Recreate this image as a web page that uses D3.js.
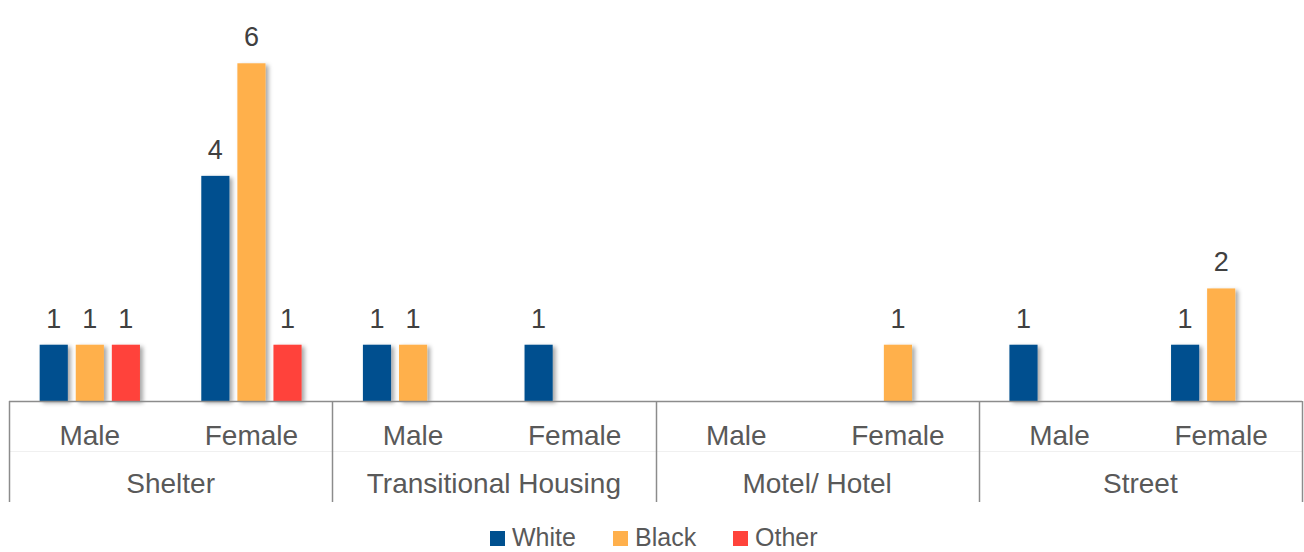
<!DOCTYPE html>
<html>
<head>
<meta charset="utf-8">
<script src="https://cdn.jsdelivr.net/npm/d3@7"></script>
<style>
  body { margin: 0; background: #fff; }
  text { font-family: Arial, "Liberation Sans", sans-serif; }
</style>
</head>
<body>
<svg width="1304" height="552"></svg>
<script>
var groups = ['Shelter', 'Transitional Housing', 'Motel/ Hotel', 'Street'];
var sexes = ['Male', 'Female'];
var seriesNames = ['White', 'Black', 'Other'];
var colors = ['#00508F', '#FFB04C', '#FF433B'];

// one value per group/sex pair, in order (null = no bar)
var white = [1, 4, 1, 1, null, null, 1, 1];
var black = [1, 6, 1, null, null, 1, null, 2];
var other = [1, 1, null, null, null, null, null, null];
var seriesValues = [white, black, other];

var svg = d3.select('svg');

var defs = svg.append('defs');
var f = defs.append('filter').attr('id', 'shadow')
    .attr('x', '-20%').attr('y', '-20%').attr('width', '160%').attr('height', '160%');
f.append('feDropShadow')
    .attr('dx', 3).attr('dy', 2).attr('stdDeviation', 2)
    .attr('flood-color', '#000').attr('flood-opacity', 0.35);

var baseY = 401;

var x0 = d3.scaleBand().domain(groups).range([9, 1302]);
var x1 = d3.scaleBand().domain(sexes).range([0, x0.bandwidth()]);
var x2 = d3.scaleBand().domain(seriesNames).range([0, x1.bandwidth()])
    .paddingInner(0.22).paddingOuter(0.85);
var yScale = d3.scaleLinear().domain([0, 7]).range([baseY, 7]);

var bars = [];
seriesNames.forEach(function(s, si) {
    seriesValues[si].forEach(function(v, i) {
        if (v == null) return;
        bars.push({
            group: groups[Math.floor(i / 2)],
            sex: sexes[i % 2],
            series: s,
            color: colors[si],
            value: v
        });
    });
});

function barX(d) {
    return x0(d.group) + x1(d.sex) + x2(d.series);
}

svg.append('g').selectAll('rect')
    .data(bars)
    .enter()
    .append('rect')
    .attr('x', barX)
    .attr('y', function(d) { return yScale(d.value); })
    .attr('width', x2.bandwidth())
    .attr('height', function(d) { return baseY - yScale(d.value); })
    .style('fill', function(d) { return d.color; })
    .attr('filter', 'url(#shadow)');

svg.append('g').selectAll('text')
    .data(bars)
    .enter()
    .append('text')
    .attr('x', function(d) { return barX(d) + x2.bandwidth() / 2; })
    .attr('y', function(d) { return yScale(d.value) - 17; })
    .attr('text-anchor', 'middle')
    .style('font-size', '27px')
    .style('fill', '#404040')
    .text(function(d) { return d.value; });

// category axis
var axis = svg.append('g').attr('class', 'x axis');

// faint separator between the two label rows
axis.append('line')
    .attr('x1', 9).attr('x2', 1302)
    .attr('y1', 451.5).attr('y2', 451.5)
    .style('stroke', '#f0f0f0').style('stroke-width', 1);

axis.append('line')
    .attr('x1', 9).attr('x2', 1302)
    .attr('y1', baseY + 0.5).attr('y2', baseY + 0.5)
    .style('stroke', '#8c8c8c').style('stroke-width', 1.5);

var dividers = groups.map(function(g) { return x0(g); }).concat([x0.range()[1]]);
axis.selectAll('line.div')
    .data(dividers)
    .enter()
    .append('line')
    .attr('class', 'div')
    .attr('x1', function(d) { return Math.round(d) + 0.5; })
    .attr('x2', function(d) { return Math.round(d) + 0.5; })
    .attr('y1', baseY).attr('y2', 502)
    .style('stroke', '#8c8c8c').style('stroke-width', 1.5);

var subLabels = [];
groups.forEach(function(g) {
    sexes.forEach(function(s) { subLabels.push({ group: g, sex: s }); });
});

axis.selectAll('text.sub')
    .data(subLabels)
    .enter()
    .append('text')
    .attr('class', 'sub')
    .attr('x', function(d) { return x0(d.group) + x1(d.sex) + x1.bandwidth() / 2; })
    .attr('y', 445)
    .attr('text-anchor', 'middle')
    .style('font-size', '28px')
    .style('fill', '#595959')
    .text(function(d) { return d.sex; });

axis.selectAll('text.grp')
    .data(groups)
    .enter()
    .append('text')
    .attr('class', 'grp')
    .attr('x', function(d) { return x0(d) + x0.bandwidth() / 2; })
    .attr('y', 493)
    .attr('text-anchor', 'middle')
    .style('font-size', '28px')
    .style('fill', '#595959')
    .text(function(d) { return d; });

// legend
var legendX = [490, 613, 733];
var legend = svg.append('g').attr('class', 'legend');
var items = legend.selectAll('g')
    .data(seriesNames)
    .enter()
    .append('g')
    .attr('transform', function(d, i) { return 'translate(' + legendX[i] + ',0)'; });
items.append('rect')
    .attr('x', 0).attr('y', 531)
    .attr('width', 15).attr('height', 15)
    .style('fill', function(d, i) { return colors[i]; });
items.append('text')
    .attr('x', 22).attr('y', 546)
    .style('font-size', '25px')
    .style('fill', '#595959')
    .text(function(d) { return d; });
</script>
</body>
</html>
